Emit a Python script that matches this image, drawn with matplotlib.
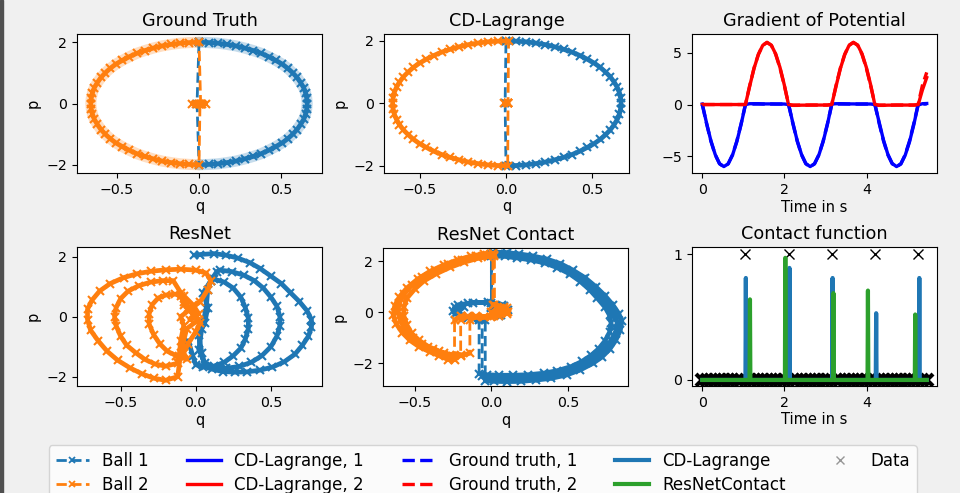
import numpy as np
import matplotlib
matplotlib.use("Agg")
import matplotlib.pyplot as plt
from matplotlib.lines import Line2D
from matplotlib.patches import Rectangle

# ---- phase space data (q, p) ----
# half ellipse swept by p going 2 -> -2 (shared by Ground Truth and CD-Lagrange)
ellipse_p_down = [2.0, 1.99, 1.97, 1.93, 1.88, 1.81, 1.73, 1.64, 1.53, 1.41, 1.29, 1.15, 1.0,
                  0.85, 0.68, 0.52, 0.35, 0.17, 0.0, -0.17, -0.35, -0.52, -0.68, -0.85, -1.0,
                  -1.15, -1.29, -1.41, -1.53, -1.64, -1.73, -1.81, -1.88, -1.93, -1.97, -1.99, -2.0]
ellipse_p_up = [-2.0, -1.99, -1.97, -1.93, -1.88, -1.81, -1.73, -1.64, -1.53, -1.41, -1.29, -1.15, -1.0,
                -0.85, -0.68, -0.52, -0.35, -0.17, 0.0, 0.17, 0.35, 0.52, 0.68, 0.85, 1.0,
                1.15, 1.29, 1.41, 1.53, 1.64, 1.73, 1.81, 1.88, 1.93, 1.97, 1.99, 2.0]

gt_swing1_q = [0.0, 0.058, 0.115, 0.171, 0.226, 0.279, 0.33, 0.379, 0.424, 0.467, 0.506, 0.541, 0.572,
               0.598, 0.62, 0.638, 0.65, 0.657, 0.66, 0.657, 0.65, 0.638, 0.62, 0.598, 0.572,
               0.541, 0.506, 0.467, 0.424, 0.379, 0.33, 0.279, 0.226, 0.171, 0.115, 0.058, 0.0]
gt_swing2_q = [0.0, -0.058, -0.115, -0.171, -0.226, -0.279, -0.33, -0.379, -0.424, -0.467, -0.506, -0.541, -0.572,
               -0.598, -0.62, -0.638, -0.65, -0.657, -0.66, -0.657, -0.65, -0.638, -0.62, -0.598, -0.572,
               -0.541, -0.506, -0.467, -0.424, -0.379, -0.33, -0.279, -0.226, -0.171, -0.115, -0.058, 0.0]
gt_rest1_q = [-0.012, 0.0]
gt_rest1_p = [0.0, 2.0]
gt_rest2_q = [0.01, -0.04, -0.02, 0.0, 0.02, 0.04, 0.006]
gt_rest2_p = [0.0, 0.0, 0.0, 0.0, 0.0, 0.0, 0.0]

cd_swing1_q = [0.0, 0.058, 0.116, 0.173, 0.229, 0.283, 0.335, 0.384, 0.431, 0.474, 0.513, 0.549, 0.58,
               0.607, 0.63, 0.647, 0.66, 0.667, 0.67, 0.667, 0.66, 0.647, 0.63, 0.607, 0.58,
               0.549, 0.513, 0.474, 0.431, 0.384, 0.335, 0.283, 0.229, 0.173, 0.116, 0.058, 0.0]
cd_swing2_q = [0.01, -0.048, -0.106, -0.163, -0.219, -0.273, -0.325, -0.374, -0.421, -0.464, -0.503, -0.539, -0.57,
               -0.597, -0.62, -0.637, -0.65, -0.657, -0.66, -0.657, -0.65, -0.637, -0.62, -0.597, -0.57,
               -0.539, -0.503, -0.464, -0.421, -0.374, -0.325, -0.273, -0.219, -0.163, -0.106, -0.048, 0.015]
cd_rest1_q = [-0.005, 0.0]
cd_rest1_p = [0.0, 2.0]
cd_rest2_q = [0.012, -0.01, 0.012, 0.012]
cd_rest2_p = [0.0, 0.0, 0.0, 0.0]

rn_q1 = [-0.01, 0.03, 0.12, 0.2, 0.28, 0.36, 0.43, 0.5, 0.57, 0.63, 0.69, 0.74, 0.77, 0.77, 0.75, 0.71,
         0.66, 0.59, 0.51, 0.43, 0.34, 0.26, 0.18, 0.11, 0.06,
         0.04, 0.02, 0.06, 0.08, 0.05, 0.1, 0.14,
         0.16, 0.24, 0.32, 0.39, 0.45, 0.5, 0.54, 0.56, 0.56, 0.54, 0.5, 0.44, 0.37, 0.29, 0.2, 0.12, 0.06,
         0.02, 0.04, 0.07, 0.08, 0.1,
         0.12, 0.19, 0.25, 0.3, 0.33, 0.35, 0.35, 0.33, 0.3, 0.25, 0.19, 0.12, 0.05, 0.0,
         -0.02, -0.05]
rn_p1 = [2.05, 2.07, 2.1, 2.05, 1.95, 1.8, 1.6, 1.35, 1.1, 0.8, 0.5, 0.2, -0.1, -0.35, -0.65, -0.95,
         -1.25, -1.5, -1.68, -1.78, -1.84, -1.85, -1.83, -1.75, -1.65,
         -1.2, -0.6, -0.2, 0.3, 0.8, 1.2, 1.5,
         1.55, 1.5, 1.38, 1.2, 0.95, 0.65, 0.35, 0.0, -0.3, -0.65, -1.0, -1.3, -1.52, -1.66, -1.72, -1.68, -1.55,
         -1.1, -0.4, 0.3, 0.9, 1.2,
         1.25, 1.15, 0.95, 0.65, 0.3, -0.05, -0.4, -0.75, -1.05, -1.3, -1.52, -1.65, -1.68, -1.6,
         -1.3, -0.8]
rn_q2 = [0.0, -0.08, -0.1, -0.05, 0.02, -0.06, -0.1,
         -0.12, -0.2, -0.28, -0.36, -0.44, -0.52, -0.59, -0.65, -0.7, -0.72, -0.72, -0.69, -0.64, -0.57,
         -0.48, -0.39, -0.3, -0.2, -0.1, 0.0, 0.07, 0.1, 0.08,
         0.03, -0.05, -0.1, -0.08, -0.1, -0.11,
         -0.12, -0.2, -0.27, -0.34, -0.4, -0.46, -0.5, -0.53, -0.54, -0.53, -0.5, -0.45, -0.38, -0.3, -0.22, -0.15,
         -0.1, -0.08, -0.02, 0.03, 0.0, -0.05, -0.08,
         -0.06, -0.13, -0.19, -0.24, -0.28, -0.31, -0.31, -0.29, -0.25, -0.2, -0.14, -0.08,
         -0.02, 0.02, -0.04]
rn_p2 = [0.0, 0.5, 0.7, 0.3, -0.1, -0.4, -1.2,
         -2.0, -2.12, -2.05, -1.9, -1.7, -1.45, -1.15, -0.8, -0.45, -0.1, 0.25, 0.55, 0.85, 1.1,
         1.3, 1.43, 1.51, 1.56, 1.58, 1.55, 1.45, 1.2, 0.9,
         0.5, 0.2, 0.0, -0.3, -0.8, -1.3,
         -1.55, -1.65, -1.58, -1.42, -1.2, -0.95, -0.65, -0.3, 0.0, 0.3, 0.6, 0.85, 1.03, 1.15, 1.2, 1.2,
         0.8, 0.4, 0.1, -0.2, -0.5, -0.9, -1.2,
         -1.42, -1.3, -1.15, -0.9, -0.6, -0.25, 0.1, 0.4, 0.62, 0.72, 0.75, 0.7,
         0.4, 0.1, -0.1]

rc_q1 = [0.01, 0.1, 0.18, 0.27, 0.36, 0.45, 0.53, 0.61, 0.68, 0.74, 0.79, 0.83, 0.85, 0.84, 0.81, 0.77,
         0.72, 0.66, 0.58, 0.49, 0.39, 0.29, 0.19, 0.1, 0.02, -0.04,
         -0.04, -0.12, -0.2, -0.25, -0.22, -0.12, 0.0, 0.08, 0.1, 0.05, 0.0,
         0.0, 0.09, 0.17, 0.26, 0.35, 0.44, 0.52, 0.6, 0.66, 0.72, 0.77, 0.8, 0.82, 0.81, 0.78, 0.74,
         0.69, 0.63, 0.55, 0.46, 0.37, 0.27, 0.17, 0.08, 0.0, -0.06,
         -0.06, -0.15, -0.24, -0.24, -0.15, -0.02, 0.07, 0.11, 0.06, 0.0,
         0.0, 0.09, 0.17, 0.26, 0.35, 0.43, 0.51, 0.58, 0.64, 0.69, 0.74, 0.77, 0.78, 0.77, 0.74, 0.7,
         0.65, 0.59, 0.52, 0.43, 0.34, 0.24, 0.14, 0.05, -0.03, -0.08,
         -0.08, -0.16, -0.22, -0.18]
rc_p1 = [2.35, 2.33, 2.28, 2.2, 2.08, 1.9, 1.65, 1.35, 1.0, 0.65, 0.3, -0.05, -0.35, -0.7, -1.1, -1.45,
         -1.75, -2.0, -2.25, -2.45, -2.58, -2.65, -2.7, -2.71, -2.7, -2.68,
         -0.3, -0.25, -0.15, 0.05, 0.28, 0.38, 0.38, 0.25, 0.05, -0.15, 0.2,
         2.28, 2.26, 2.2, 2.12, 2.0, 1.82, 1.58, 1.28, 0.95, 0.6, 0.25, -0.1, -0.4, -0.75, -1.1, -1.42,
         -1.7, -1.95, -2.18, -2.36, -2.48, -2.55, -2.58, -2.58, -2.55, -2.5,
         -0.3, -0.22, -0.05, 0.2, 0.35, 0.4, 0.3, 0.1, -0.12, 0.15,
         2.2, 2.18, 2.12, 2.04, 1.92, 1.74, 1.5, 1.2, 0.88, 0.55, 0.2, -0.12, -0.42, -0.78, -1.12, -1.42,
         -1.68, -1.92, -2.12, -2.28, -2.38, -2.44, -2.46, -2.46, -2.44, -2.4,
         -0.3, -0.2, 0.0, 0.2]
rc_q2 = [0.0, 0.08, 0.1, 0.02, -0.1, -0.2, -0.24,
         -0.24, -0.28, -0.34, -0.4, -0.47, -0.53, -0.58, -0.62, -0.64, -0.63, -0.6, -0.55, -0.48, -0.4,
         -0.31, -0.22, -0.13, -0.05, 0.01,
         0.01, 0.08, 0.11, 0.05, -0.05, -0.15, -0.2,
         -0.2, -0.25, -0.31, -0.38, -0.45, -0.51, -0.56, -0.59, -0.61, -0.6, -0.57, -0.52, -0.45, -0.37,
         -0.28, -0.19, -0.1, -0.03, 0.02,
         0.02, 0.1, 0.1, 0.0, -0.1, -0.14,
         -0.14, -0.2, -0.27, -0.34, -0.41, -0.47, -0.52, -0.55, -0.57, -0.57, -0.55, -0.5, -0.44, -0.36,
         -0.27, -0.18, -0.09, -0.02, 0.02]
rc_p2 = [0.0, 0.15, 0.0, -0.15, -0.2, -0.15, -0.3,
         -1.85, -1.85, -1.7, -1.55, -1.35, -1.1, -0.8, -0.45, -0.1, 0.25, 0.6, 0.95, 1.3, 1.6,
         1.85, 2.05, 2.2, 2.28, 2.3,
         0.3, 0.2, 0.0, -0.15, -0.2, -0.15, -0.3,
         -1.65, -1.7, -1.6, -1.45, -1.25, -1.0, -0.7, -0.35, 0.0, 0.35, 0.7, 1.05, 1.38, 1.65,
         1.88, 2.05, 2.18, 2.24, 2.25,
         0.3, 0.15, -0.05, -0.18, -0.15, -0.3,
         -1.6, -1.7, -1.65, -1.52, -1.34, -1.1, -0.82, -0.5, -0.15, 0.2, 0.55, 0.9, 1.22, 1.5,
         1.75, 1.95, 2.1, 2.17, 2.18]

# ---- time series ----
time_s = [0.0, 0.105, 0.21, 0.315, 0.42, 0.525, 0.63, 0.735, 0.84, 0.945, 1.05, 1.155, 1.26, 1.365,
          1.47, 1.575, 1.68, 1.785, 1.89, 1.995, 2.1, 2.205, 2.31, 2.415, 2.52, 2.625, 2.73, 2.835,
          2.94, 3.045, 3.15, 3.255, 3.36, 3.465, 3.57, 3.675, 3.78, 3.885, 3.99, 4.095, 4.2, 4.305,
          4.41, 4.515, 4.62, 4.725, 4.83, 4.935, 5.04, 5.145, 5.25, 5.355, 5.46]
gt_grad1 = [0.0, -1.85, -3.53, -4.85, -5.71, -6.0, -5.71, -4.85, -3.53, -1.85, 0.0,
            0.05, 0.05, 0.05, 0.05, 0.05, 0.05, 0.05, 0.05, 0.05, 0.0,
            -1.85, -3.53, -4.85, -5.71, -6.0, -5.71, -4.85, -3.53, -1.85, 0.0,
            0.05, 0.05, 0.05, 0.05, 0.05, 0.05, 0.05, 0.05, 0.05, 0.0,
            -1.85, -3.53, -4.85, -5.71, -6.0, -5.71, -4.85, -3.53, -1.85, 0.0, 0.05, 0.05]
gt_grad2 = [0.0, 0.0, 0.0, 0.0, 0.0, 0.0, 0.0, 0.0, 0.0, 0.0, 0.0,
            1.85, 3.53, 4.85, 5.71, 6.0, 5.71, 4.85, 3.53, 1.85, 0.0,
            -0.05, -0.05, -0.05, -0.05, -0.05, -0.05, -0.05, -0.05, -0.05, 0.0,
            1.85, 3.53, 4.85, 5.71, 6.0, 5.71, 4.85, 3.53, 1.85, 0.0,
            -0.05, -0.05, -0.05, -0.05, -0.05, -0.05, -0.05, -0.05, -0.05, 0.0, 1.85, 3.1]
cd_grad1 = [0.05, -1.8, -3.5, -4.82, -5.7, -5.98, -5.72, -4.88, -3.58, -1.9, 0.0,
            0.08, 0.08, 0.08, 0.06, 0.06, 0.06, 0.05, 0.05, 0.05, 0.0,
            -1.8, -3.5, -4.82, -5.7, -5.98, -5.72, -4.88, -3.58, -1.9, 0.05,
            0.08, 0.08, 0.07, 0.06, 0.06, 0.05, 0.05, 0.05, 0.05, 0.0,
            -1.75, -3.45, -4.8, -5.68, -5.98, -5.74, -4.9, -3.62, -1.95, -0.05, 0.08, 0.1]
cd_grad2 = [0.0, 0.0, 0.0, 0.0, 0.0, 0.0, 0.0, 0.0, 0.0, 0.0, 0.0,
            1.8, 3.5, 4.82, 5.7, 5.98, 5.72, 4.88, 3.58, 1.9, -0.05,
            -0.08, -0.08, -0.06, -0.06, -0.05, -0.05, -0.05, -0.05, -0.05, 0.0,
            1.78, 3.48, 4.8, 5.7, 5.98, 5.74, 4.9, 3.6, 1.92, -0.05,
            -0.08, -0.08, -0.06, -0.06, -0.05, -0.05, -0.05, -0.05, -0.05, -0.05, 1.4, 2.6]

cd_contact_t = [0.0, 1.05, 1.06, 1.07, 2.11, 2.12, 2.13, 3.16, 3.17, 3.18, 4.22, 4.23, 4.24,
                5.27, 5.28, 5.29, 5.46]
cd_contact_v = [0.0, 0.0, 0.81, 0.0, 0.0, 0.89, 0.0, 0.0, 0.81, 0.0, 0.0, 0.53, 0.0,
                0.0, 0.81, 0.0, 0.0]
rn_contact_t = [0.0, 1.15, 1.16, 1.17, 2.01, 2.02, 2.03, 3.18, 3.19, 3.2, 4.02, 4.03, 4.04,
                5.17, 5.18, 5.19, 5.46]
rn_contact_v = [0.0, 0.0, 0.64, 0.0, 0.0, 0.97, 0.0, 0.0, 0.69, 0.0, 0.0, 0.71, 0.0,
                0.0, 0.52, 0.0, 0.0]
contact_data_v = [0, 0, 0, 0, 0, 0, 0, 0, 0, 0, 1,
                  0, 0, 0, 0, 0, 0, 0, 0, 0, 1,
                  0, 0, 0, 0, 0, 0, 0, 0, 0, 1,
                  0, 0, 0, 0, 0, 0, 0, 0, 0, 1,
                  0, 0, 0, 0, 0, 0, 0, 0, 0, 1, 0, 0]

C_BALL1 = "#1f77b4"
C_BALL2 = "#ff7f0e"
C_RESNET = "#2ca02c"


def plot_ball(ax, q, p, color):
    q = np.asarray(q, float)
    p = np.asarray(p, float)
    # solid band under the markers, broken where the trajectory jumps
    jump = np.hypot(np.diff(q) * 5, np.diff(p)) > 0.9
    bq, bp = [q[0]], [p[0]]
    for i in range(1, len(q)):
        if jump[i - 1]:
            bq.append(np.nan)
            bp.append(np.nan)
        bq.append(q[i])
        bp.append(p[i])
    ax.plot(bq, bp, color=color, lw=3.4, solid_capstyle="round")
    ax.plot(q, p, ls="--", marker="x", color=color, lw=2.0, ms=6, mew=1.5)


def phase_axes(ax, title, xlim, ylim, yticks=(-2, 0, 2)):
    ax.set_title(title, fontsize=12.7)
    ax.set_xlim(*xlim)
    ax.set_ylim(*ylim)
    ax.set_xticks([-0.5, 0.0, 0.5])
    ax.set_yticks(list(yticks))
    ax.set_xlabel("q", fontsize=10.5, labelpad=2)
    ax.set_ylabel("p", fontsize=10.5)
    ax.tick_params(labelsize=10.2)


W, H = 960, 493
fig = plt.figure(figsize=(W / 100, H / 100), dpi=100, facecolor="#f0f0f0")


def rect(left, top, width=245, height=139):
    return [left / W, 1 - (top + height) / H, width / W, height / H]


ax_gt = fig.add_axes(rect(77, 34))
ax_cd = fig.add_axes(rect(384, 34))
ax_grad = fig.add_axes(rect(692, 34))
ax_rn = fig.add_axes(rect(77, 247))
ax_rc = fig.add_axes(rect(383, 248, height=138))
ax_con = fig.add_axes(rect(692, 247))

# Ground truth: noisy data halo + trajectory
ax_gt.plot(gt_swing1_q, ellipse_p_down, color=C_BALL1, lw=8, alpha=0.25, solid_capstyle="round")
ax_gt.plot(gt_swing2_q, ellipse_p_up, color=C_BALL2, lw=8, alpha=0.25, solid_capstyle="round")
plot_ball(ax_gt, gt_swing1_q + gt_rest1_q, ellipse_p_down + gt_rest1_p, C_BALL1)
plot_ball(ax_gt, gt_rest2_q + gt_swing2_q + [gt_rest2_q[0]], gt_rest2_p + ellipse_p_up + [gt_rest2_p[0]], C_BALL2)
phase_axes(ax_gt, "Ground Truth", (-0.744, 0.75), (-2.27, 2.27))

# CD-Lagrange
plot_ball(ax_cd, cd_swing1_q + cd_rest1_q, ellipse_p_down + cd_rest1_p, C_BALL1)
plot_ball(ax_cd, cd_rest2_q + cd_swing2_q + [cd_rest2_q[0]], cd_rest2_p + ellipse_p_up + [cd_rest2_p[0]], C_BALL2)
phase_axes(ax_cd, "CD-Lagrange", (-0.71, 0.716), (-2.23, 2.22))

# ResNet
plot_ball(ax_rn, rn_q1, rn_p1, C_BALL1)
plot_ball(ax_rn, rn_q2, rn_p2, C_BALL2)
phase_axes(ax_rn, "ResNet", (-0.79, 0.84), (-2.31, 2.32))

# ResNet Contact
plot_ball(ax_rc, rc_q1, rc_p1, C_BALL1)
plot_ball(ax_rc, rc_q2, rc_p2, C_BALL2)
phase_axes(ax_rc, "ResNet Contact", (-0.706, 0.89), (-2.88, 2.51))

# Gradient of potential
ax_grad.plot(time_s, cd_grad1, color="blue", lw=2.4)
ax_grad.plot(time_s, cd_grad2, color="red", lw=2.4)
ax_grad.plot(time_s, gt_grad1, color="blue", lw=2.4, ls="--")
ax_grad.plot(time_s, gt_grad2, color="red", lw=2.4, ls="--")
ax_grad.set_title("Gradient of Potential", fontsize=12.7)
ax_grad.set_xlim(-0.25, 5.71)
ax_grad.set_ylim(-6.6, 6.8)
ax_grad.set_xticks([0, 2, 4])
ax_grad.set_yticks([-5, 0, 5])
ax_grad.set_xlabel("Time in s", fontsize=10.5, labelpad=2)
ax_grad.tick_params(labelsize=10.2)

# Contact function
data_t = np.asarray(time_s)
data_v = np.asarray(contact_data_v, float)
at_rest = data_v == 0
ax_con.plot(data_t[at_rest], data_v[at_rest], ls="none", marker="x", color="k", ms=8, mew=3.0)
ax_con.plot(data_t[~at_rest], data_v[~at_rest], ls="none", marker="x", color="k", ms=6.5, mew=1.0)
ax_con.plot(cd_contact_t, cd_contact_v, color=C_BALL1, lw=3)
ax_con.plot(rn_contact_t, rn_contact_v, color=C_RESNET, lw=3)
ax_con.set_title("Contact function", fontsize=12.7)
ax_con.set_xlim(-0.25, 5.71)
ax_con.set_ylim(-0.048, 1.056)
ax_con.set_xticks([0, 2, 4])
ax_con.set_yticks([0, 1])
ax_con.set_xlabel("Time in s", fontsize=10.5, labelpad=2)
ax_con.tick_params(labelsize=10.2)

handles = [
    Line2D([], [], color=C_BALL1, ls="--", marker="x", lw=2.0, ms=5, mew=1.3),
    Line2D([], [], color=C_BALL2, ls="--", marker="x", lw=2.0, ms=5, mew=1.3),
    Line2D([], [], color="blue", lw=2.4),
    Line2D([], [], color="red", lw=2.4),
    Line2D([], [], color="blue", lw=2.4, ls="--"),
    Line2D([], [], color="red", lw=2.4, ls="--"),
    Line2D([], [], color=C_BALL1, lw=3),
    Line2D([], [], color=C_RESNET, lw=3),
    Line2D([], [], color="k", ls="none", marker="x", alpha=0.4, ms=6),
]
labels = ["Ball 1", "Ball 2", "CD-Lagrange, 1", "CD-Lagrange, 2", "Ground truth, 1",
          "Ground truth, 2", "CD-Lagrange", "ResNetContact", "Data"]
fig.legend(handles, labels, ncol=5, loc="upper center", bbox_to_anchor=(0.503, 1 - 437 / H),
           fontsize=12, frameon=True, columnspacing=2.3, labelspacing=0.35)

# dark window edge on the left of the screenshot
fig.add_artist(Rectangle((0, 0), 3 / W, 1, transform=fig.transFigure, color="#505050", zorder=10))

fig.savefig("out.png", dpi=100, facecolor=fig.get_facecolor())
